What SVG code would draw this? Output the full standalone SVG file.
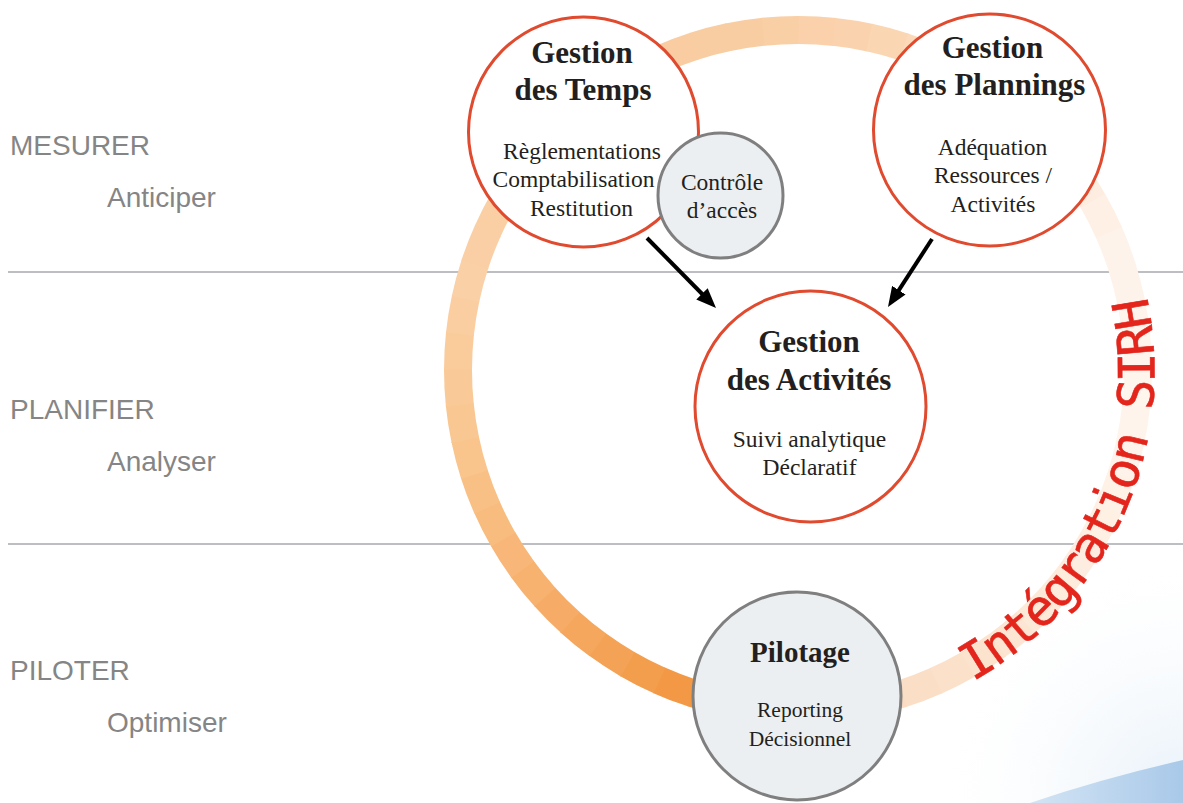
<svg xmlns="http://www.w3.org/2000/svg" width="1183" height="803" viewBox="0 0 1183 803">
<style>
.lbl{font-family:"Liberation Sans",Arial,sans-serif;font-size:28px;fill:#858585}
.sep{stroke:#A7A9AC;stroke-width:1.5}
.rs{fill:none;stroke-width:28;stroke-dasharray:36.6 2099.68}
.rn{fill:#FFFFFF;stroke:#E04A2F;stroke-width:3}
.gn{fill:#ECEFF2;stroke:#7F7F7F;stroke-width:3}
.ttl{font-family:"Liberation Serif","Times New Roman",serif;font-weight:bold;font-size:31px;fill:#231F20;text-anchor:middle}
.sub{font-family:"Liberation Serif","Times New Roman",serif;font-size:23.5px;fill:#231F20;text-anchor:middle}
.arr{stroke:#000;stroke-width:4;fill:none;marker-end:url(#ah)}
.sirh{font-family:"DejaVu Sans Mono",monospace;font-size:50px;fill:#E3251C;letter-spacing:-2px;stroke:#E3251C;stroke-width:0.6}
</style>
<defs>
<marker id="ah" viewBox="0 0 20 16" refX="8" refY="8" markerWidth="20" markerHeight="16" markerUnits="userSpaceOnUse" orient="auto">
<path d="M0,0 L20,8 L0,16 Z" fill="#000"/>
</marker>
<linearGradient id="blue" x1="1030" y1="0" x2="1183" y2="0" gradientUnits="userSpaceOnUse">
<stop offset="0" stop-color="#D3E4F4"/>
<stop offset="1" stop-color="#A9C9E9"/>
</linearGradient>
<radialGradient id="wash" cx="1183" cy="803" r="260" gradientUnits="userSpaceOnUse">
<stop offset="0" stop-color="#E6F0F9"/>
<stop offset="1" stop-color="#FFFFFF" stop-opacity="0"/>
</radialGradient>
<path id="sirhPath" d="M 972.6 681.4 A 356 356 0 0 0 1120.6 219.5"/>
</defs>
<rect width="1183" height="803" fill="#FFFFFF"/>
<rect x="900" y="540" width="283" height="263" fill="url(#wash)"/>
<path d="M 1030 803 Q 1100 779 1183 760 L 1183 803 Z" fill="url(#blue)"/>

<g id="bands">
<line class="sep" x1="8" y1="272" x2="1183" y2="272"/>
<line class="sep" x1="8" y1="544" x2="1183" y2="544"/>
<text class="lbl" x="10" y="155">MESURER</text>
<text class="lbl" x="107" y="207">Anticiper</text>
<text class="lbl" x="10" y="419">PLANIFIER</text>
<text class="lbl" x="107" y="471">Analyser</text>
<text class="lbl" x="10" y="680">PILOTER</text>
<text class="lbl" x="107" y="732">Optimiser</text>
</g>

<g id="ring">
<circle class="rs" cx="798" cy="370" r="340" stroke="#FEF5ED" stroke-dashoffset="0"/>
<circle class="rs" cx="798" cy="370" r="340" stroke="#FEF4EB" stroke-dashoffset="-35.60"/>
<circle class="rs" cx="798" cy="370" r="340" stroke="#FEF3EA" stroke-dashoffset="-71.21"/>
<circle class="rs" cx="798" cy="370" r="340" stroke="#FEF2E7" stroke-dashoffset="-106.81"/>
<circle class="rs" cx="798" cy="370" r="340" stroke="#FEF0E2" stroke-dashoffset="-142.42"/>
<circle class="rs" cx="798" cy="370" r="340" stroke="#FDEDE0" stroke-dashoffset="-178.02"/>
<circle class="rs" cx="798" cy="370" r="340" stroke="#FDEBDC" stroke-dashoffset="-213.63"/>
<circle class="rs" cx="798" cy="370" r="340" stroke="#FDE9D7" stroke-dashoffset="-249.23"/>
<circle class="rs" cx="798" cy="370" r="340" stroke="#FCE6D3" stroke-dashoffset="-284.84"/>
<circle class="rs" cx="798" cy="370" r="340" stroke="#FCE3CE" stroke-dashoffset="-320.44"/>
<circle class="rs" cx="798" cy="370" r="340" stroke="#FCE1CA" stroke-dashoffset="-356.05"/>
<circle class="rs" cx="798" cy="370" r="340" stroke="#FBDEC6" stroke-dashoffset="-391.65"/>
<circle class="rs" cx="798" cy="370" r="340" stroke="#FBDCC2" stroke-dashoffset="-427.26"/>
<circle class="rs" cx="798" cy="370" r="340" stroke="#FBDCC2" stroke-dashoffset="-462.86"/>
<circle class="rs" cx="798" cy="370" r="340" stroke="#FBDCC2" stroke-dashoffset="-498.47"/>
<circle class="rs" cx="798" cy="370" r="340" stroke="#F29640" stroke-dashoffset="-534.07"/>
<circle class="rs" cx="798" cy="370" r="340" stroke="#F29640" stroke-dashoffset="-569.68"/>
<circle class="rs" cx="798" cy="370" r="340" stroke="#F29640" stroke-dashoffset="-605.28"/>
<circle class="rs" cx="798" cy="370" r="340" stroke="#F39945" stroke-dashoffset="-640.88"/>
<circle class="rs" cx="798" cy="370" r="340" stroke="#F39E4D" stroke-dashoffset="-676.49"/>
<circle class="rs" cx="798" cy="370" r="340" stroke="#F4A255" stroke-dashoffset="-712.09"/>
<circle class="rs" cx="798" cy="370" r="340" stroke="#F5A75D" stroke-dashoffset="-747.70"/>
<circle class="rs" cx="798" cy="370" r="340" stroke="#F6AC66" stroke-dashoffset="-783.30"/>
<circle class="rs" cx="798" cy="370" r="340" stroke="#F7B26F" stroke-dashoffset="-818.91"/>
<circle class="rs" cx="798" cy="370" r="340" stroke="#F8B778" stroke-dashoffset="-854.51"/>
<circle class="rs" cx="798" cy="370" r="340" stroke="#F8BC7F" stroke-dashoffset="-890.12"/>
<circle class="rs" cx="798" cy="370" r="340" stroke="#F9C086" stroke-dashoffset="-925.72"/>
<circle class="rs" cx="798" cy="370" r="340" stroke="#F9C58D" stroke-dashoffset="-961.33"/>
<circle class="rs" cx="798" cy="370" r="340" stroke="#F9C792" stroke-dashoffset="-996.93"/>
<circle class="rs" cx="798" cy="370" r="340" stroke="#F9CA97" stroke-dashoffset="-1032.54"/>
<circle class="rs" cx="798" cy="370" r="340" stroke="#FACC9C" stroke-dashoffset="-1068.14"/>
<circle class="rs" cx="798" cy="370" r="340" stroke="#FACEA1" stroke-dashoffset="-1103.75"/>
<circle class="rs" cx="798" cy="370" r="340" stroke="#FAD0A6" stroke-dashoffset="-1139.35"/>
<circle class="rs" cx="798" cy="370" r="340" stroke="#FACFA5" stroke-dashoffset="-1174.96"/>
<circle class="rs" cx="798" cy="370" r="340" stroke="#FACFA4" stroke-dashoffset="-1210.56"/>
<circle class="rs" cx="798" cy="370" r="340" stroke="#FACEA3" stroke-dashoffset="-1246.16"/>
<circle class="rs" cx="798" cy="370" r="340" stroke="#F9CEA2" stroke-dashoffset="-1281.77"/>
<circle class="rs" cx="798" cy="370" r="340" stroke="#F9CDA1" stroke-dashoffset="-1317.37"/>
<circle class="rs" cx="798" cy="370" r="340" stroke="#F9CDA0" stroke-dashoffset="-1352.98"/>
<circle class="rs" cx="798" cy="370" r="340" stroke="#F9CDA0" stroke-dashoffset="-1388.58"/>
<circle class="rs" cx="798" cy="370" r="340" stroke="#F9CDA1" stroke-dashoffset="-1424.19"/>
<circle class="rs" cx="798" cy="370" r="340" stroke="#F9CDA1" stroke-dashoffset="-1459.79"/>
<circle class="rs" cx="798" cy="370" r="340" stroke="#F9CDA2" stroke-dashoffset="-1495.40"/>
<circle class="rs" cx="798" cy="370" r="340" stroke="#F9CDA2" stroke-dashoffset="-1531.00"/>
<circle class="rs" cx="798" cy="370" r="340" stroke="#F9CFA6" stroke-dashoffset="-1566.61"/>
<circle class="rs" cx="798" cy="370" r="340" stroke="#FAD1AA" stroke-dashoffset="-1602.21"/>
<circle class="rs" cx="798" cy="370" r="340" stroke="#FAD3AE" stroke-dashoffset="-1637.82"/>
<circle class="rs" cx="798" cy="370" r="340" stroke="#FAD6B3" stroke-dashoffset="-1673.42"/>
<circle class="rs" cx="798" cy="370" r="340" stroke="#FBD9B9" stroke-dashoffset="-1709.03"/>
<circle class="rs" cx="798" cy="370" r="340" stroke="#FBDCBF" stroke-dashoffset="-1744.63"/>
<circle class="rs" cx="798" cy="370" r="340" stroke="#FBE0C6" stroke-dashoffset="-1780.23"/>
<circle class="rs" cx="798" cy="370" r="340" stroke="#FCE3CD" stroke-dashoffset="-1815.84"/>
<circle class="rs" cx="798" cy="370" r="340" stroke="#FCE7D4" stroke-dashoffset="-1851.44"/>
<circle class="rs" cx="798" cy="370" r="340" stroke="#FDEADB" stroke-dashoffset="-1887.05"/>
<circle class="rs" cx="798" cy="370" r="340" stroke="#FDEDE0" stroke-dashoffset="-1922.65"/>
<circle class="rs" cx="798" cy="370" r="340" stroke="#FEF0E4" stroke-dashoffset="-1958.26"/>
<circle class="rs" cx="798" cy="370" r="340" stroke="#FEF3EA" stroke-dashoffset="-1993.86"/>
<circle class="rs" cx="798" cy="370" r="340" stroke="#FEF3EB" stroke-dashoffset="-2029.47"/>
<circle class="rs" cx="798" cy="370" r="340" stroke="#FEF4EC" stroke-dashoffset="-2065.07"/>
<circle class="rs" cx="798" cy="370" r="340" stroke="#FEF5ED" stroke-dashoffset="-2100.68"/>
</g>

<g id="node-temps">
<circle class="rn" cx="583.5" cy="132" r="115"/>
<text class="ttl" x="582" y="63">Gestion</text>
<text class="ttl" x="583" y="100">des Temps</text>
<text class="sub" x="582" y="159">Règlementations</text>
<text class="sub" x="573.5" y="187">Comptabilisation</text>
<text class="sub" x="581.5" y="216">Restitution</text>
</g>

<g id="node-controle">
<circle class="gn" cx="720.5" cy="195.5" r="62.5"/>
<text class="sub" x="722" y="190">Contrôle</text>
<text class="sub" x="722" y="218">d’accès</text>
</g>

<g id="node-plannings">
<circle class="rn" cx="989.5" cy="130" r="116"/>
<text class="ttl" x="992.5" y="58">Gestion</text>
<text class="ttl" x="994.5" y="95">des Plannings</text>
<text class="sub" x="992.5" y="155">Adéquation</text>
<text class="sub" x="993" y="183">Ressources /</text>
<text class="sub" x="993" y="212">Activités</text>
</g>

<g id="node-activites">
<circle class="rn" cx="810.5" cy="406.5" r="115.5"/>
<text class="ttl" x="809" y="352">Gestion</text>
<text class="ttl" x="809" y="390">des Activités</text>
<text class="sub" x="809.5" y="447">Suivi analytique</text>
<text class="sub" x="809.5" y="475">Déclaratif</text>
</g>

<g id="node-pilotage">
<circle class="gn" cx="797" cy="696" r="104"/>
<text class="ttl" x="800" y="662" style="font-size:29px">Pilotage</text>
<text class="sub" x="800" y="717" style="font-size:21.5px">Reporting</text>
<text class="sub" x="800" y="746" style="font-size:21.5px">Décisionnel</text>
</g>

<g id="connectors">
<line class="arr" x1="647" y1="238" x2="707.6" y2="299.5"/>
<line class="arr" x1="932" y1="239" x2="894.5" y2="296.9"/>
</g>

<g id="integration">
<text class="sirh"><textPath href="#sirhPath">Intégration SIRH</textPath></text>
</g>
</svg>
